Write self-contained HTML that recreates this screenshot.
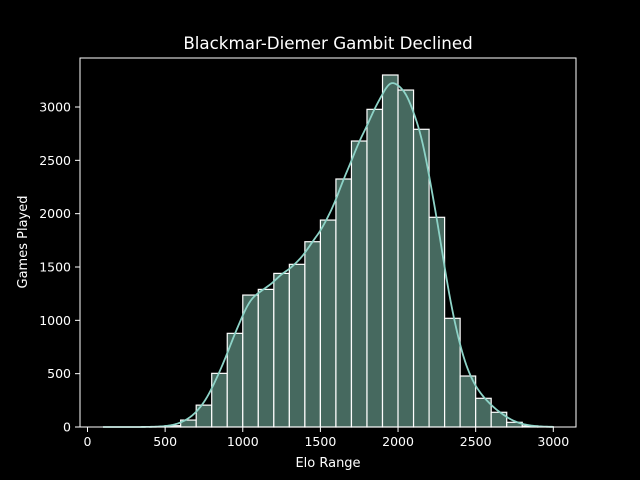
<!DOCTYPE html>
<html><head><meta charset="utf-8"><style>
html,body{margin:0;padding:0;background:#000;}
svg{display:block;font-family:"DejaVu Sans","Liberation Sans",sans-serif;}
</style></head><body>
<svg id="chart" width="640" height="480" viewBox="0 0 640 480" xmlns="http://www.w3.org/2000/svg">
<rect x="0" y="0" width="640" height="480" fill="#000"/>
<text x="328" y="49" fill="#fff" font-size="16.7" text-anchor="middle">Blackmar-Diemer Gambit Declined</text>
<text x="328" y="467" fill="#fff" font-size="13" text-anchor="middle">Elo Range</text>
<text x="0" y="0" transform="translate(27,242) rotate(-90)" fill="#fff" font-size="13" text-anchor="middle">Games Played</text>
<g id="bars"></g>
<path id="kde" fill="none" stroke="#8dd3c7" stroke-width="1.8"/>
<rect x="80" y="58" width="496" height="369" fill="none" stroke="#fff" stroke-width="1"/>
<g id="xticks"></g>
<g id="yticks"></g>
</svg>
<script>
const binStarts = [100,200,300,400,500,600,700,800,900,1000,1100,1200,1300,1400,1500,1600,1700,1800,1900,2000,2100,2200,2300,2400,2500,2600,2700,2800,2900];
const counts = [0,0,0,2,12,65,205,503,878,1237,1290,1440,1525,1737,1940,2325,2681,2978,3300,3159,2791,1966,1019,478,269,138,44,10,2];
const xTicks = [0,500,1000,1500,2000,2500,3000];
const yTicks = [0,500,1000,1500,2000,2500,3000];
const binWidth = 100;

const NS = "http://www.w3.org/2000/svg";
function xs(v){ return 87.5 + v * (553.3 - 87.5) / 3000; }
function ys(v){ return 427 - v * (427 - 107) / 3000; }
function mk(tag, attrs, parent){
  const e = document.createElementNS(NS, tag);
  for (const k in attrs) e.setAttribute(k, attrs[k]);
  parent.appendChild(e);
  return e;
}
const bars = document.getElementById('bars');
binStarts.forEach((b, i) => {
  const x0 = xs(b), x1 = xs(b + binWidth), y = ys(counts[i]);
  const r = mk('rect', {x: x0, y: y, width: x1 - x0, height: Math.max(0, 427 - y), fill: '#46695f', stroke: '#fff', 'stroke-width': 1.2}, bars);
  
  
});
const bw = 62;
const pts = [];
for (let v = 100; v <= 3000; v += 10) {
  let d = 0;
  binStarts.forEach((b, i) => {
    const c = b + binWidth / 2;
    d += counts[i] * Math.exp(-0.5 * Math.pow((v - c) / bw, 2));
  });
  d = d / (bw * Math.sqrt(2 * Math.PI)) * binWidth;
  pts.push((pts.length ? 'L' : 'M') + xs(v).toFixed(2) + ',' + ys(d).toFixed(2));
}
document.getElementById('kde').setAttribute('d', pts.join(''));
const xt = document.getElementById('xticks');
xTicks.forEach(t => {
  const l = mk('line', {x1: xs(t), x2: xs(t), y1: 427, y2: 432, stroke: '#fff', 'stroke-width': 1}, xt);
  
  
  const tx = mk('text', {x: xs(t), y: 446, fill: '#fff', 'font-size': 12.5, 'text-anchor': 'middle'}, xt);
  tx.textContent = t;
  
  
});
const yt = document.getElementById('yticks');
yTicks.forEach(t => {
  const l = mk('line', {x1: 75, x2: 80, y1: ys(t), y2: ys(t), stroke: '#fff', 'stroke-width': 1}, yt);
  
  
  const tx = mk('text', {x: 71, y: ys(t) + 4.5, fill: '#fff', 'font-size': 12.5, 'text-anchor': 'end'}, yt);
  tx.textContent = t;
  
  
});
</script>
</body></html>
